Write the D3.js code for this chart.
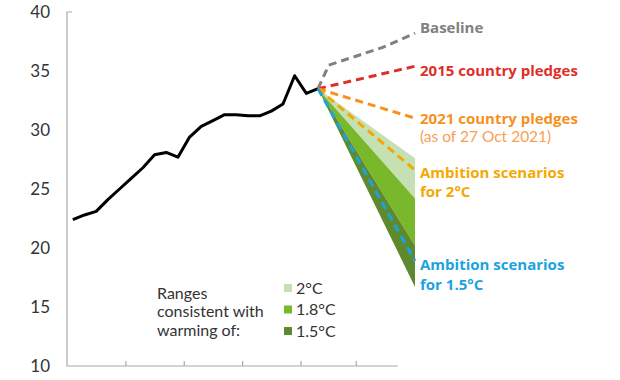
<!DOCTYPE html>
<html>
<head>
<meta charset="utf-8">
<script src="https://cdn.jsdelivr.net/npm/d3@7"></script>
<style>
  body { margin: 0; background: #fff; }
  text { font-family: Lato, "Open Sans", sans-serif; }
</style>
</head>
<body>
<div id="chart"></div>
<script>
// Historical emissions
const histYears = [2000, 2001, 2002, 2003, 2004, 2005, 2006, 2007, 2008, 2009, 2010,
                   2011, 2012, 2013, 2014, 2015, 2016, 2017, 2018, 2019, 2020, 2021];
const histValues = [22.4, 22.8, 23.1, 24.1, 25.0, 25.9, 26.8, 27.9, 28.1, 27.7, 29.4,
                    30.3, 30.8, 31.3, 31.3, 31.2, 31.2, 31.6, 32.2, 34.6, 33.1, 33.5];

// Projections
const baselineYears = [2021, 2022, 2027, 2030];
const baselineValues = [33.5, 35.5, 37.0, 38.2];
const projYears = [2021, 2030];
const pledges2015 = [33.5, 35.4];
const pledges2021 = [33.5, 31.0];
const ambition2 = [33.5, 26.6];
const ambition15 = [33.5, 18.9];

// Ranges consistent with warming of (2030 low / high)
const rangeNames = ["2°C", "1.8°C", "1.5°C"];
const rangeLow = [24.2, 20.2, 16.7];
const rangeHigh = [27.6, 24.2, 20.2];
const rangeColors = ["#c5e0b3", "#78b82a", "#5e8a2d"];

const yTicks = [10, 15, 20, 25, 30, 35, 40];
const xTicks = [2004.5, 2009.5, 2014.5, 2019.5, 2024.5];

const width = 620;
const height = 380;

const svg = d3.select("#chart")
    .append("svg")
    .attr("width", width)
    .attr("height", height);

// projection period is drawn a bit compressed, so use a two-piece scale
const x = d3.scaleLinear()
    .domain([1999.5, 2021, 2030])
    .range([67, 318, 415]);

const y = d3.scaleLinear()
    .domain([10, 40])
    .range([366, 12]);

const axisColor = "#aaa";

// y axis labels
const yAxis = d3.axisLeft(y).tickValues(yTicks).tickSize(0).tickPadding(17);
svg.append("g")
    .attr("class", "y-axis")
    .attr("transform", "translate(67,0)")
    .call(yAxis)
    .call(g => g.select(".domain").remove())
    .selectAll("text")
    .style("font-size", "17px")
    .style("font-family", "Lato, sans-serif")
    .attr("fill", "#333");

// axis frame
svg.append("path")
    .attr("d", `M${x(1999.5) + 5},${y(40)}H${x(1999.5)}V${y(10)}H${x(2028.4)}`)
    .attr("fill", "none")
    .attr("stroke", axisColor)
    .attr("stroke-width", 1.2);

const xAxis = d3.axisBottom(x).tickValues(xTicks).tickSize(-5).tickFormat("");
svg.append("g")
    .attr("class", "x-axis")
    .attr("transform", `translate(0,${y(10)})`)
    .call(xAxis)
    .call(g => g.select(".domain").remove())
    .selectAll("line")
    .attr("stroke", axisColor)
    .attr("stroke-width", 1.2);

const line = d3.line().x(d => x(d[0])).y(d => y(d[1]));

// historical line
svg.append("path")
    .datum(histYears.map((yr, i) => [yr, histValues[i]]))
    .attr("d", line)
    .attr("fill", "none")
    .attr("stroke", "#000")
    .attr("stroke-width", 3)
    .attr("stroke-linejoin", "round");

// ranges fans
const area = d3.area().x(d => x(d.year)).y0(d => y(d.lo)).y1(d => y(d.hi));
rangeNames.forEach((name, i) => {
    svg.append("path")
        .datum([{ year: 2021, lo: 33.5, hi: 33.5 }, { year: 2030, lo: rangeLow[i], hi: rangeHigh[i] }])
        .attr("d", area)
        .attr("fill", rangeColors[i]);
});

// dashed projections
const dashed = [
    { years: baselineYears, values: baselineValues, color: "#808080" },
    { years: projYears, values: pledges2015, color: "#e02f2a" },
    { years: projYears, values: pledges2021, color: "#f7901e" },
    { years: projYears, values: ambition2, color: "#f6a800" },
    { years: projYears, values: ambition15, color: "#1ba3e0" }
];
dashed.forEach(s => {
    svg.append("path")
        .datum(s.years.map((yr, i) => [yr, s.values[i]]))
        .attr("d", line)
        .attr("fill", "none")
        .attr("stroke", s.color)
        .attr("stroke-width", 3)
        .attr("stroke-dasharray", "8,5");
});

// series labels
const labels = [
    { text: "Baseline", value: 38.2, dy: -6, color: "#808080", bold: true },
    { text: "2015 country pledges", value: 35.4, dy: 4, color: "#e02f2a", bold: true },
    { text: "2021 country pledges", value: 31.0, dy: 0, color: "#f7901e", bold: true },
    { text: "(as of 27 Oct 2021)", value: 31.0, dy: 18.5, color: "#f9a050", bold: false },
    { text: "Ambition scenarios", value: 26.6, dy: 2, color: "#f6a800", bold: true },
    { text: "for 2°C", value: 26.6, dy: 21.5, color: "#f6a800", bold: true },
    { text: "Ambition scenarios", value: 18.9, dy: 4, color: "#1ba3e0", bold: true },
    { text: "for 1.5°C", value: 18.9, dy: 24, color: "#1ba3e0", bold: true }
];
svg.selectAll(".label")
    .data(labels)
    .enter()
    .append("text")
    .attr("class", "label")
    .attr("x", x(2030) + 5)
    .attr("y", d => y(d.value) + d.dy)
    .attr("dy", "0.36em")
    .attr("fill", d => d.color)
    .style("font-family", d => d.bold ? "'Open Sans', sans-serif" : "Lato, sans-serif")
    .style("font-size", d => d.bold ? "15px" : "15.5px")
    .style("font-weight", d => d.bold ? "bold" : "normal")
    .text(d => d.text);

// legend
const legendTitle = ["Ranges", "consistent with", "warming of:"];
svg.selectAll(".legend-title")
    .data(legendTitle)
    .enter()
    .append("text")
    .attr("class", "legend-title")
    .attr("x", 157)
    .attr("y", (d, i) => 293 + i * 18.7)
    .attr("dy", "0.36em")
    .attr("fill", "#333")
    .style("font-size", "16px")
    .text(d => d);

const legendItems = svg.selectAll(".legend-item")
    .data(rangeNames)
    .enter()
    .append("g")
    .attr("class", "legend-item")
    .attr("transform", (d, i) => `translate(284,${288 + i * 21.5})`);

legendItems.append("rect")
    .attr("x", 0)
    .attr("y", -4)
    .attr("width", 8)
    .attr("height", 8)
    .attr("fill", (d, i) => rangeColors[i]);

legendItems.append("text")
    .attr("x", 12)
    .attr("y", 0)
    .attr("dy", "0.36em")
    .attr("fill", "#333")
    .style("font-size", "16px")
    .text(d => d);
</script>
</body>
</html>
